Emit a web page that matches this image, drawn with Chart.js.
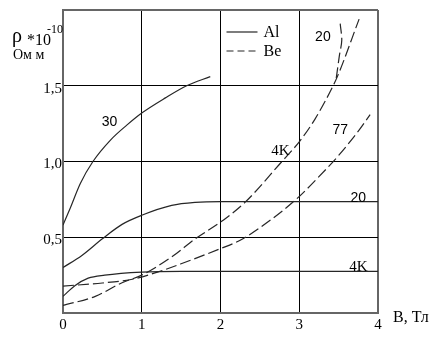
<!DOCTYPE html>
<html><head><meta charset="utf-8">
<script src="https://cdn.jsdelivr.net/npm/chart.js@4/dist/chart.umd.min.js"></script>
<style>html,body{margin:0;padding:0;background:#fff}</style>
</head><body>
<canvas id="c" width="436" height="341" style="display:block;width:436px;height:341px"></canvas>
<script>
// ---- data (B in Tesla, rho in 1e-10 Ohm m) ----
const al30B = [0, 0.09, 0.22, 0.38, 0.6, 0.81, 1.0, 1.3, 1.57, 1.87];
const al30R = [0.58, 0.69, 0.855, 1.0, 1.14, 1.24, 1.32, 1.42, 1.5, 1.56];
const al20B = [0, 0.24, 0.5, 0.75, 1.0, 1.38, 1.68, 2.0, 3.0, 4.0];
const al20R = [0.30, 0.38, 0.49, 0.585, 0.645, 0.71, 0.73, 0.735, 0.735, 0.735];
const al4B  = [0, 0.15, 0.32, 0.53, 1.0, 1.5, 2.0, 3.0, 4.0];
const al4R  = [0.11, 0.18, 0.23, 0.25, 0.27, 0.275, 0.275, 0.275, 0.275];
const be77B = [0, 0.5, 0.9, 1.2, 1.5, 2.0, 2.25, 2.52, 2.96, 3.25, 3.5, 3.75, 3.9];
const be77R = [0.178, 0.198, 0.225, 0.27, 0.325, 0.425, 0.48, 0.57, 0.75, 0.9, 1.04, 1.2, 1.31];
const be4B  = [0, 0.41, 0.75, 1.0, 1.38, 1.68, 2.0, 2.31, 2.78, 3.0, 3.2, 3.43, 3.5, 3.76];
const be4R  = [0.05, 0.11, 0.20, 0.25, 0.37, 0.49, 0.60, 0.73, 1.0, 1.13, 1.28, 1.5, 1.58, 1.94];
const be20B = [3.47, 3.51, 3.54, 3.52];
const be20R = [1.55, 1.70, 1.80, 1.91];
const xTickValues = [0, 1, 2, 3, 4];
const yTickLabels = { '0.5': '0,5', '1': '1,0', '1.5': '1,5' };
const curveLabels = [
  { text: '30', B: 0.59, R: 1.257, serif: false },
  { text: '20', B: 3.75, R: 0.757, serif: false },
  { text: '4K', B: 3.75, R: 0.30, serif: true },
  { text: '4K', B: 2.76, R: 1.07, serif: true },
  { text: '77', B: 3.52, R: 1.21, serif: false },
  { text: '20', B: 3.30, R: 1.82, serif: false }
];
const legendNames = ['Al', 'Be'];

const SERIF = '"Liberation Serif", "DejaVu Serif", serif';
const SANS = '"Liberation Sans", Arial, sans-serif';
const toPts = (xs, ys) => xs.map((x, i) => ({ x: x, y: ys[i] }));
const LINE = '#262626';
const DASH = [11, 4];

function ds(xs, ys, dashed, mono) {
  return {
    data: toPts(xs, ys),
    showLine: true,
    pointRadius: 0,
    borderColor: LINE,
    borderWidth: 1.2,
    borderDash: dashed ? DASH : [],
    cubicInterpolationMode: mono ? 'monotone' : 'default',
    tension: mono ? 0 : 0.3,
    fill: false
  };
}

const annot = {
  id: 'annot',
  afterDraw(chart) {
    const ctx = chart.ctx, xs = chart.scales.x, ys = chart.scales.y, ca = chart.chartArea;
    ctx.save();
    ctx.fillStyle = '#000';
    ctx.textBaseline = 'middle';
    ctx.textAlign = 'center';
    curveLabels.forEach(l => {
      ctx.font = (l.serif ? '15px ' + SERIF : '14px ' + SANS);
      ctx.fillText(l.text, xs.getPixelForValue(l.B), ys.getPixelForValue(l.R));
    });
    // legend
    ctx.textAlign = 'left';
    ctx.font = '16px ' + SERIF;
    const lx0 = xs.getPixelForValue(2) + 6, lx1 = lx0 + 31;
    [0, 1].forEach(i => {
      const y = ca.top + 22 + i * 19;
      ctx.beginPath();
      ctx.strokeStyle = LINE;
      ctx.lineWidth = 1.2;
      ctx.setLineDash(i ? [7, 4] : []);
      ctx.moveTo(lx0, y); ctx.lineTo(lx1, y); ctx.stroke();
      ctx.fillText(legendNames[i], lx1 + 6, y + 1);
    });
    ctx.setLineDash([]);
    // axis titles
    ctx.font = '16px ' + SERIF;
    ctx.fillText('B, Тл', ca.right + 15, ca.bottom + 5);
    ctx.textBaseline = 'alphabetic';
    ctx.font = '20px ' + SERIF;
    ctx.fillText('ρ', 12, 42);
    ctx.font = '16px ' + SERIF;
    ctx.fillText('*10', 27, 45);
    ctx.font = '12px ' + SERIF;
    ctx.fillText('-10', 47, 33);
    ctx.font = '14px ' + SERIF;
    ctx.fillText('Ом м', 13, 59);
    ctx.restore();
  }
};

new Chart(document.getElementById('c'), {
  type: 'scatter',
  data: {
    datasets: [
      ds(al30B, al30R, false, true),
      ds(al20B, al20R, false, true),
      ds(al4B, al4R, false, true),
      ds(be77B, be77R, true, true),
      ds(be4B, be4R, true, true),
      ds(be20B, be20R, true, false)
    ]
  },
  options: {
    responsive: false,
    animation: false,
    devicePixelRatio: 1,
    layout: { padding: { top: 10, right: 58, left: 0, bottom: 0 } },
    plugins: { legend: { display: false }, tooltip: { enabled: false } },
    scales: {
      x: {
        type: 'linear', min: 0, max: 4,
        afterBuildTicks: s => { s.ticks = xTickValues.map(v => ({ value: v })); },
        afterFit: s => { s.height = 28; },
        ticks: { color: '#000', font: { family: SERIF, size: 15 }, padding: 3, maxRotation: 0 },
        grid: {
          drawTicks: false,
          color: c => (c.tick && c.tick.value === 4) ? '#666' : '#000',
          lineWidth: c => (c.tick && c.tick.value === 4) ? 2 : 1
        },
        border: { color: '#666', width: 2 }
      },
      y: {
        type: 'linear', min: 0, max: 2,
        afterFit: s => { s.width = 63; },
        ticks: {
          stepSize: 0.5, color: '#000', padding: 1, labelOffset: 3,
          font: { family: SERIF, size: 15 },
          callback: v => (yTickLabels[String(v)] !== undefined ? yTickLabels[String(v)] : '')
        },
        grid: {
          drawTicks: false,
          color: c => (c.tick && c.tick.value === 2) ? '#666' : '#000',
          lineWidth: c => (c.tick && c.tick.value === 2) ? 2 : 1
        },
        border: { color: '#666', width: 2 }
      }
    }
  },
  plugins: [annot]
});
</script>
</body></html>
